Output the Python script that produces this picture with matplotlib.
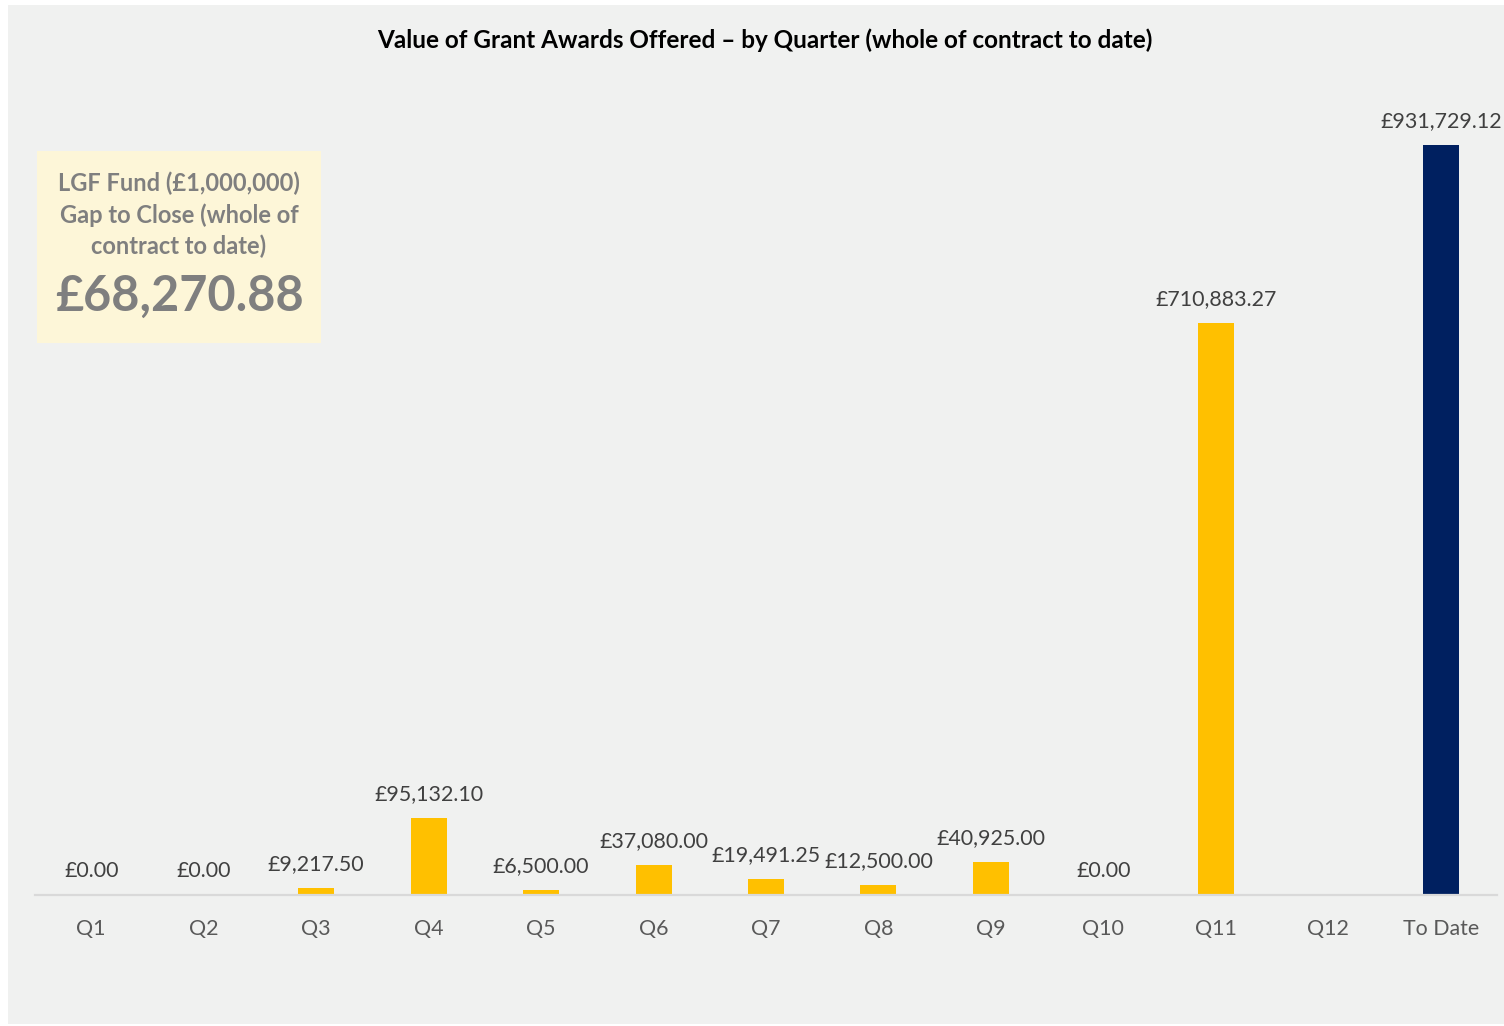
import numpy as np
import matplotlib.pyplot as plt
from matplotlib.patches import Rectangle

quarters = ['Q1', 'Q2', 'Q3', 'Q4', 'Q5', 'Q6', 'Q7', 'Q8', 'Q9', 'Q10', 'Q11', 'Q12', 'To Date']
values = [0.0, 0.0, 9217.50, 95132.10, 6500.00, 37080.00, 19491.25, 12500.00,
          40925.00, 0.0, 710883.27, np.nan, 931729.12]
colors = ['#ffc000'] * 12 + ['#002060']

fund_text = 'LGF Fund (£1,000,000)\nGap to Close (whole of\ncontract to date)'
gap_text = '£68,270.88'

plt.rcParams['font.family'] = ['Lato', 'DejaVu Sans']

fig = plt.figure(figsize=(15.04, 10.26), dpi=100, facecolor='white')
# grey chart area
fig.patches.append(Rectangle((8 / 1504, 2 / 1026), 1496 / 1504, 1019 / 1026,
                             transform=fig.transFigure, facecolor='#f0f1f0',
                             edgecolor='none', zorder=0))
# info box
fig.patches.append(Rectangle((37 / 1504, (1026 - 343) / 1026), 284 / 1504, 192 / 1026,
                             transform=fig.transFigure, facecolor='#fdf6d8',
                             edgecolor='none', zorder=1))

ax = fig.add_axes([35 / 1504, 131 / 1026, 1462 / 1504, 805 / 1026])
ax.set_facecolor('none')
ax.set_zorder(2)

x = np.arange(len(quarters))
bar_vals = np.nan_to_num(values)
ax.bar(x, bar_vals, width=0.32, color=colors, zorder=2)

for xi, v in zip(x, values):
    if np.isnan(v):
        continue
    ax.annotate(f'£{v:,.2f}', (xi, v), xytext=(0, 10), textcoords='offset points',
                ha='center', va='bottom', fontsize=15.4, color='#404040')

ax.set_xlim(-0.5, len(quarters) - 0.5)
ax.set_ylim(0, 1000000)
ax.set_xticks(x)
ax.set_xticklabels(quarters, fontsize=15.4, color='#595959')
ax.tick_params(axis='x', length=0, pad=17)
ax.set_yticks([])
for s in ['top', 'right', 'left']:
    ax.spines[s].set_visible(False)
ax.spines['bottom'].set_color('#d9d9d9')
ax.spines['bottom'].set_linewidth(1.6)

fig.text(765 / 1504, 986 / 1026, 'Value of Grant Awards Offered – by Quarter (whole of contract to date)',
         ha='center', va='center', fontsize=17.5, fontweight='bold', color='black', zorder=3)

fig.text(179 / 1504, (1026 - 215) / 1026, fund_text, ha='center', va='center',
         fontsize=17, fontweight='bold', color='#7f7f7f', linespacing=1.42, zorder=3)
fig.text(179 / 1504, (1026 - 296) / 1026, gap_text, ha='center', va='center',
         fontsize=35, fontweight='bold', color='#7f7f7f', zorder=3)

fig.savefig('out.png', dpi=100, facecolor='white')
